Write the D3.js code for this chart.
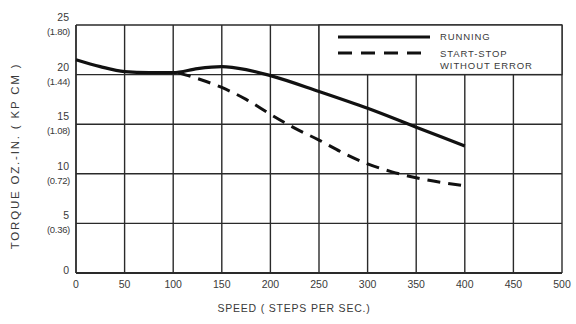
<!DOCTYPE html>
<html><head><meta charset="utf-8">
<script src="https://cdn.jsdelivr.net/npm/d3@7"></script>
<style>
body{margin:0;background:#fff;}
text{font-family:"Liberation Sans",Arial,sans-serif;fill:#3a3a3a;}
</style></head>
<body><svg id="c" width="576" height="324"></svg>
<script>
const runningSpeed = [0,25,50,75,100,125,150,175,200,250,300,350,400];
const runningTorque = [21.5,20.8,20.3,20.2,20.2,20.6,20.8,20.5,19.9,18.3,16.6,14.7,12.8];
const startStopSpeed = [105,125,150,175,200,225,250,275,300,325,350,375,400];
const startStopTorque = [20.2,19.6,18.7,17.5,16.0,14.6,13.4,12.1,11.0,10.2,9.6,9.15,8.8];
const xTicks = [0,50,100,150,200,250,300,350,400,450,500];
const yTicks = [0,5,10,15,20,25];
const yMetric = ["","(0.36)","(0.72)","(1.08)","(1.44)","(1.80)"];
const legendLabels = [["RUNNING"],["START-STOP","WITHOUT ERROR"]];

const svg = d3.select("#c");
const x = d3.scaleLinear().domain([0,500]).range([76,562]);
const y = d3.scaleLinear().domain([0,25]).range([273,25]);
const ink = "#2a2a2a";

// grid
const g = svg.append("g");
g.selectAll(".v").data(xTicks).join("line")
  .attr("x1",d=>x(d)).attr("x2",d=>x(d)).attr("y1",y(0)).attr("y2",y(25))
  .attr("stroke",ink).attr("stroke-width",d=>(d===0)?1.8:1.4);
g.selectAll(".h").data(yTicks).join("line")
  .attr("x1",x(0)).attr("x2",x(500)).attr("y1",d=>y(d)).attr("y2",d=>y(d))
  .attr("stroke",ink).attr("stroke-width",d=>(d===0)?1.8:1.4);

// legend box (masks grid in upper right)
svg.append("rect").attr("x",x(250)).attr("y",y(25)).attr("width",x(500)-x(250)).attr("height",y(20)-y(25))
  .attr("fill","#fff").attr("stroke",ink).attr("stroke-width",1.4);

// x tick labels
svg.selectAll(".xl").data(xTicks).join("text")
  .attr("x",d=>x(d)).attr("y",288).attr("text-anchor","middle")
  .attr("font-size",10.5).text(d=>d);

// y tick labels
yTicks.forEach((d,i)=>{
  if(d===0){
    svg.append("text").attr("x",69).attr("y",y(0)+1).attr("text-anchor","end").attr("font-size",10.5).text("0");
  } else {
    svg.append("text").attr("x",69).attr("y",y(d)-4).attr("text-anchor","end").attr("font-size",10.5).text(d);
    svg.append("text").attr("x",70).attr("y",y(d)+10).attr("text-anchor","end").attr("font-size",9.5).attr("letter-spacing",-0.3).text(yMetric[i]);
  }
});

// axis titles
svg.append("text").attr("x",294).attr("y",312).attr("text-anchor","middle")
  .attr("font-size",10.5).attr("letter-spacing",0.8).text("SPEED ( STEPS PER SEC.)");
svg.append("text").attr("transform","translate(19,156) rotate(-90)").attr("text-anchor","middle")
  .attr("font-size",11.5).attr("letter-spacing",1.8).text("TORQUE  OZ.-IN.  ( KP CM )");

// curves
const line = d3.line().x(d=>x(d[0])).y(d=>y(d[1])).curve(d3.curveMonotoneX);
const runData = runningSpeed.map((s,i)=>[s,runningTorque[i]]);
const ssData = startStopSpeed.map((s,i)=>[s,startStopTorque[i]]);
svg.append("path").attr("d",line(ssData)).attr("fill","none").attr("stroke","#111")
  .attr("stroke-width",3).attr("stroke-dasharray","13,8");
svg.append("path").attr("d",line(runData)).attr("fill","none").attr("stroke","#111")
  .attr("stroke-width",3.2);

// legend
const lg = svg.append("g");
lg.append("line").attr("x1",338).attr("x2",430).attr("y1",37).attr("y2",37).attr("stroke","#111").attr("stroke-width",3.2);
lg.append("line").attr("x1",338).attr("x2",430).attr("y1",53).attr("y2",53).attr("stroke","#111").attr("stroke-width",3).attr("stroke-dasharray","14,9");
lg.append("text").attr("x",440).attr("y",40).attr("font-size",9.5).attr("letter-spacing",0.9).text(legendLabels[0][0]);
lg.append("text").attr("x",440).attr("y",57).attr("font-size",9.5).attr("letter-spacing",0.9).text(legendLabels[1][0]);
lg.append("text").attr("x",440).attr("y",69).attr("font-size",9.5).attr("letter-spacing",0.9).text(legendLabels[1][1]);
</script></body></html>
